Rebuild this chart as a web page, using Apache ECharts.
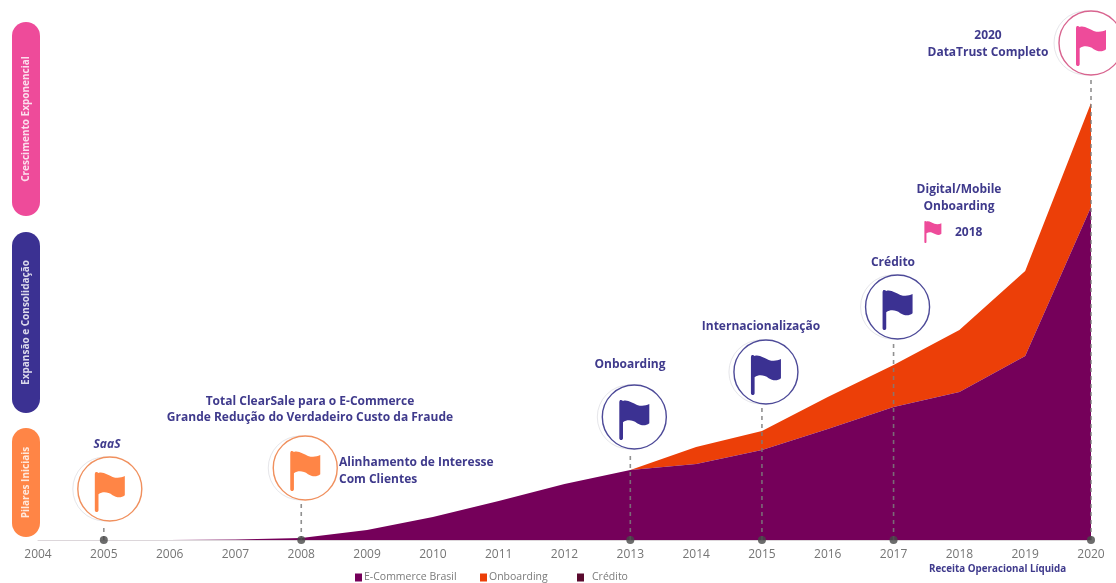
<!DOCTYPE html>
<html>
<head>
<meta charset="utf-8">
<style>html,body{margin:0;padding:0;background:#fff}#c{width:1116px;height:583px}</style>
<script src="https://cdn.jsdelivr.net/npm/echarts@6/dist/echarts.min.js"></script>
</head>
<body>
<div id="c"></div>
<script>
const years = ['2004','2005','2006','2007','2008','2009','2010','2011','2012','2013','2014','2015','2016','2017','2018','2019','2020'];
const ecommerce = [0,0,0,0.1,0.4,2,4.6,7.8,11.2,14,15.2,18,22.2,26.6,29.6,36.8,66.6];
const onboarding = [0,0,0,0,0,0,0,0,0,0,3.4,3.8,6.4,8.4,12.4,17,20.8];
const credito = [];
const milestoneYears = ['2005','2008','2013','2015','2017','2020'];
const milestoneHeights = [10.2,14.4,24.6,33.6,46.6,99.4];
const milestoneStages = [0,0,1,1,1,2];
const smallFlagYears = ['2018'];
const smallFlagHeights = [61.6];

const ORANGE='#FF8546', NAVY='#3B3192', PINK='#EE4B9A', TEXT='#3F3A8C';
const stageFlag=[ORANGE,NAVY,PINK];
const stageRing=['#F0905E','#4D4A98','#D8648F'];
const FLAG='M4 0C8-1 11 0 14 2C30-2 45 8 60 12C75 16 88 14 100 10L100 58C88 66 72 64 60 58C45 50 28 48 14 56L14 96C14 102 2 102 2 96L2 4Z';
const FONT='"Open Sans",sans-serif';
const R=32;

function renderMilestone(params,api){
  const base=api.coord([api.value(0),0]);
  const c=api.coord([api.value(0),api.value(1)]);
  const st=api.value(2);
  const dx=params.dataIndex===0?6:(params.dataIndex===5?0:4);
  const cx=c[0]+dx, cy=c[1];
  return {type:'group',children:[
    {type:'line',shape:{x1:base[0],y1:base[1],x2:base[0],y2:cy+R+3},
     style:{stroke:'#7d7d7d',lineWidth:1.6,lineDash:[4,4],opacity:.85}},
    {type:'circle',shape:{cx:cx-5,cy:cy,r:R},style:{fill:'#fff',stroke:'#e6e6ea',lineWidth:1}},
    {type:'circle',shape:{cx:cx,cy:cy,r:R},style:{fill:'#fff',stroke:stageRing[st],lineWidth:1.4}},
    {type:'path',shape:{pathData:FLAG,layout:'cover',x:cx-15,y:cy-17,width:30,height:40},style:{fill:stageFlag[st]}}
  ]};
}
function renderSmallFlag(params,api){
  const c=api.coord([api.value(0),api.value(1)]);
  return {type:'path',shape:{pathData:FLAG,layout:'cover',x:c[0]-35,y:c[1]-11,width:17,height:22},style:{fill:PINK}};
}
function pill(y,h,color,label){
  return [
    {type:'rect',shape:{x:12,y:y,width:28,height:h,r:14},style:{fill:color}},
    {type:'text',x:26,y:y+h/2,rotation:Math.PI/2,style:{text:label,fill:'rgba(255,255,255,.82)',font:'bold 10px '+FONT,align:'center',verticalAlign:'middle'}}
  ];
}
function note(text,x,y,align,extra){
  return {type:'text',x:x,y:y+1,z:20,style:{text:text,fill:TEXT,font:(extra||'bold')+' 12px '+FONT,align:align||'center',verticalAlign:'middle'}};
}
const graphics=[].concat(
  pill(22,194,PINK,'Crescimento Exponencial'),
  pill(232,181,NAVY,'Expansão e Consolidação'),
  pill(428,109,ORANGE,'Pilares Iniciais'),
  [
    note('SaaS',107,444,'center','italic bold'),
    note('Total ClearSale para o E-Commerce',310,401),
    note('Grande Redução do Verdadeiro Custo da Fraude',310,417),
    note('Alinhamento de Interesse',339,462,'left'),
    note('Com Clientes',339,479,'left'),
    note('Onboarding',630,364),
    note('Internacionalização',761,326),
    note('Crédito',893,262),
    note('Digital/Mobile',959,189),
    note('Onboarding',959,206),
    note('2018',955,232,'left'),
    note('2020',988,35),
    note('DataTrust Completo',988,52),
    {type:'text',x:929,y:569,style:{text:'Receita Operacional Líquida',fill:TEXT,font:'bold 9.8px '+FONT,verticalAlign:'middle'}}
  ]
);
function legendAt(name,left,pad){
  return {data:[name],left:left,top:572,icon:'rect',itemWidth:7,itemHeight:8,itemGap:2,selectedMode:false,
    textStyle:{color:'#7a7a7a',fontSize:10.5,fontFamily:FONT,padding:[0,0,0,pad]},padding:0};
}
const chart=echarts.init(document.getElementById('c'),null,{renderer:'canvas'});
chart.setOption({
  animation:false,
  backgroundColor:'#fff',
  grid:{left:38,right:25,top:40,bottom:43},
  legend:[legendAt('E-Commerce Brasil',355,-3),legendAt('Onboarding',480,-3),legendAt('Crédito',577,3)],
  xAxis:{type:'category',data:years,boundaryGap:false,
    axisLine:{lineStyle:{color:'#dcd6da',width:1}},axisTick:{show:false},
    axisLabel:{color:'#757575',fontSize:12,fontFamily:FONT,margin:9,interval:0},splitLine:{show:false}},
  yAxis:{type:'value',min:0,max:100,show:false,splitLine:{show:false}},
  graphic:{elements:graphics},
  series:[
    {name:'E-Commerce Brasil',type:'line',stack:'r',data:ecommerce,symbol:'none',
      lineStyle:{width:0},itemStyle:{color:'#75005A'},areaStyle:{color:'#75005A',opacity:1},z:3},
    {name:'Onboarding',type:'line',stack:'r',data:onboarding,symbol:'none',
      lineStyle:{width:0},itemStyle:{color:'#EC3F08'},areaStyle:{color:'#EC3F08',opacity:1},z:2},
    {name:'Crédito',type:'line',stack:'r',data:credito,symbol:'none',
      lineStyle:{width:0},itemStyle:{color:'#5A0A2E'},z:2},
    {type:'custom',clip:false,z:5,renderItem:renderMilestone,
      data:milestoneYears.map((y,i)=>[y,milestoneHeights[i],milestoneStages[i]])},
    {type:'custom',clip:false,z:5,renderItem:renderSmallFlag,
      data:smallFlagYears.map((y,i)=>[y,smallFlagHeights[i]])},
    {type:'scatter',z:6,symbolSize:8,itemStyle:{color:'#474747'},clip:false,
      data:milestoneYears.map(y=>[y,0])}
  ]
});
</script>
</body>
</html>
